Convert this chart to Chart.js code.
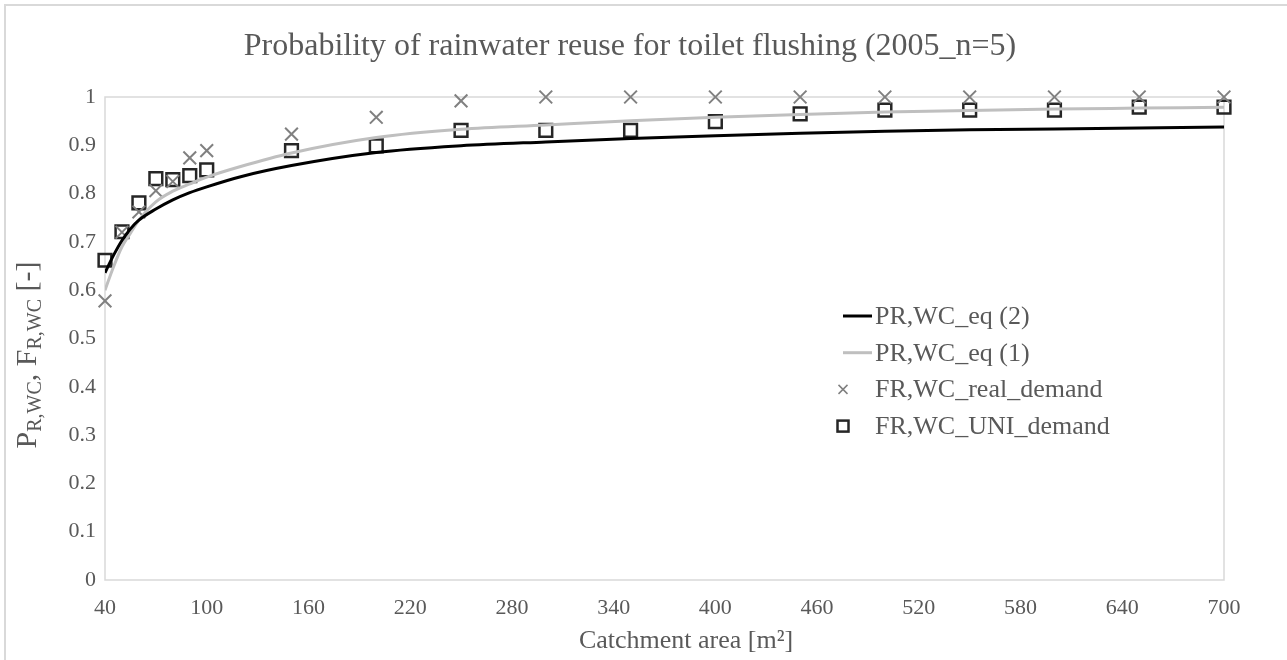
<!DOCTYPE html>
<html>
<head>
<meta charset="utf-8">
<script src="https://cdn.jsdelivr.net/npm/chart.js@4/dist/chart.umd.min.js"></script>
<style>
  html, body { margin: 0; padding: 0; background: #fff; }
  #wrap { width: 1287px; height: 660px; }
</style>
</head>
<body>
<div id="wrap"><canvas id="chart" width="1287" height="660"></canvas></div>
<script>
const serif = "'Liberation Serif', 'Times New Roman', serif";
const textGray = '#595959';
const axisGray = '#d9d9d9';

const titleText = 'Probability of rainwater reuse for toilet flushing (2005_n=5)';
const xTitle = 'Catchment area [m\u00B2]';

// measured points (catchment area in m2)
const areas = [40, 50, 60, 70, 80, 90, 100, 150, 200, 250, 300, 350, 400, 450, 500, 550, 600, 650, 700];
const realDemand = [0.578, 0.72, 0.762, 0.806, 0.825, 0.874, 0.889, 0.923, 0.958, 0.992, 1, 1, 1, 1, 1, 1, 1, 1, 1];
const uniDemand = [0.662, 0.721, 0.781, 0.831, 0.829, 0.837, 0.849, 0.889, 0.899, 0.931, 0.931, 0.931, 0.949, 0.965, 0.973, 0.973, 0.973, 0.979, 0.979];

// the two fitted curves
const curveX = [40, 45, 50, 55, 60, 70, 80, 90, 100, 120, 150, 200, 250, 300, 350, 400, 450, 500, 550, 600, 650, 700];
const eq2 = [0.636, 0.672, 0.703, 0.727, 0.745, 0.768, 0.787, 0.802, 0.814, 0.835, 0.858, 0.885, 0.899, 0.907, 0.914, 0.920, 0.925, 0.929, 0.932, 0.934, 0.936, 0.938];
const eq1 = [0.600, 0.648, 0.690, 0.718, 0.745, 0.783, 0.805, 0.820, 0.834, 0.856, 0.884, 0.916, 0.933, 0.942, 0.951, 0.958, 0.964, 0.969, 0.972, 0.975, 0.977, 0.979];

const xTickValues = [40, 100, 160, 220, 280, 340, 400, 460, 520, 580, 640, 700];
const yTickValues = [0, 0.1, 0.2, 0.3, 0.4, 0.5, 0.6, 0.7, 0.8, 0.9, 1];

const toXY = (xs, ys) => xs.map((x, i) => ({ x: x, y: ys[i] }));

// frame, plot box, titles (y title needs subscripts), legend
const extras = {
    id: 'extras',
    beforeDraw(chart) {
        const ctx = chart.ctx;
        const a = chart.chartArea;
        ctx.save();
        ctx.strokeStyle = axisGray;
        ctx.lineWidth = 2;
        ctx.strokeRect(5, 5, 1400, 800); // outer border, only left/top visible
        ctx.lineWidth = 1.5;
        ctx.strokeRect(a.left, a.top, a.right - a.left, a.bottom - a.top);
        ctx.restore();
    },
    afterDraw(chart) {
        const ctx = chart.ctx;
        ctx.save();
        ctx.fillStyle = textGray;
        ctx.textAlign = 'center';
        ctx.textBaseline = 'middle';

        // chart title
        ctx.font = '32px ' + serif;
        ctx.fillText(titleText, 630, 47);

        // x axis title
        ctx.font = '26px ' + serif;
        ctx.fillText(xTitle, 686, 641);

        // y axis title: P_R,WC, F_R,WC [-]
        const parts = [['P', false], ['R,WC', true], [', F', false], ['R,WC', true], [' [-]', false]];
        const big = '30px ' + serif, small = '20px ' + serif;
        let total = 0;
        parts.forEach(p => { ctx.font = p[1] ? small : big; total += ctx.measureText(p[0]).width; });
        ctx.translate(26, 355);
        ctx.rotate(-Math.PI / 2);
        ctx.textAlign = 'left';
        ctx.textBaseline = 'alphabetic';
        let x = -total / 2;
        parts.forEach(p => {
            ctx.font = p[1] ? small : big;
            ctx.fillText(p[0], x, p[1] ? 15 : 10);
            x += ctx.measureText(p[0]).width;
        });
        ctx.restore();

        // legend
        ctx.save();
        const lx = 843, ly = 316, step = 36.7;
        chart.data.datasets.forEach((ds, i) => {
            const y = ly + i * step;
            if (ds.showLine) {
                ctx.strokeStyle = ds.borderColor;
                ctx.lineWidth = ds.borderWidth;
                ctx.beginPath();
                ctx.moveTo(lx, y);
                ctx.lineTo(lx + 29, y);
                ctx.stroke();
            } else if (ds.pointStyle === 'crossRot') {
                const r = 4.5;
                ctx.strokeStyle = ds.borderColor;
                ctx.lineWidth = 1.5;
                ctx.beginPath();
                ctx.moveTo(lx - r, y - r); ctx.lineTo(lx + r, y + r);
                ctx.moveTo(lx - r, y + r); ctx.lineTo(lx + r, y - r);
                ctx.stroke();
            } else {
                ctx.strokeStyle = ds.borderColor;
                ctx.lineWidth = 2.5;
                ctx.strokeRect(lx - 5.5, y - 5.5, 11, 11);
            }
            ctx.fillStyle = textGray;
            ctx.font = '26px ' + serif;
            ctx.textAlign = 'left';
            ctx.textBaseline = 'middle';
            ctx.fillText(ds.label, lx + 32, y + 1);
        });
        ctx.restore();
    }
};

new Chart(document.getElementById('chart'), {
    type: 'scatter',
    data: {
        datasets: [
            {
                label: 'PR,WC_eq (2)',
                data: toXY(curveX, eq2),
                showLine: true,
                borderColor: '#000000',
                borderWidth: 3,
                pointRadius: 0,
                cubicInterpolationMode: 'monotone'
            },
            {
                label: 'PR,WC_eq (1)',
                data: toXY(curveX, eq1),
                showLine: true,
                borderColor: '#bfbfbf',
                borderWidth: 3,
                pointRadius: 0,
                cubicInterpolationMode: 'monotone'
            },
            {
                label: 'FR,WC_real_demand',
                data: toXY(areas, realDemand),
                showLine: false,
                pointStyle: 'crossRot',
                pointRadius: 9,
                borderColor: '#808080',
                borderWidth: 2,
                clip: false
            },
            {
                label: 'FR,WC_UNI_demand',
                data: toXY(areas, uniDemand),
                showLine: false,
                pointStyle: 'rect',
                pointRadius: 9,
                borderColor: '#262626',
                backgroundColor: 'rgba(0,0,0,0)',
                borderWidth: 2.5,
                clip: false
            }
        ]
    },
    options: {
        responsive: false,
        animation: false,
        layout: {
            padding: { left: 0, right: 63, top: 97, bottom: 0 }
        },
        plugins: {
            legend: { display: false },
            title: { display: false },
            tooltip: { enabled: false }
        },
        scales: {
            x: {
                type: 'linear',
                min: 40,
                max: 700,
                afterBuildTicks: (scale) => { scale.ticks = xTickValues.map(v => ({ value: v })); },
                afterFit: (scale) => { scale.height = 80; },
                grid: { display: false, drawTicks: false },
                border: { display: false },
                ticks: {
                    color: textGray,
                    font: { family: serif, size: 22 },
                    padding: 15,
                    maxRotation: 0
                }
            },
            y: {
                min: 0,
                max: 1,
                afterBuildTicks: (scale) => { scale.ticks = yTickValues.map(v => ({ value: v })); },
                afterFit: (scale) => { scale.width = 105; },
                grid: { display: false, drawTicks: false },
                border: { display: false },
                ticks: {
                    color: textGray,
                    font: { family: serif, size: 22 },
                    padding: 9,
                    callback: (v) => String(+v.toFixed(1))
                }
            }
        }
    },
    plugins: [extras]
});
</script>
</body>
</html>
